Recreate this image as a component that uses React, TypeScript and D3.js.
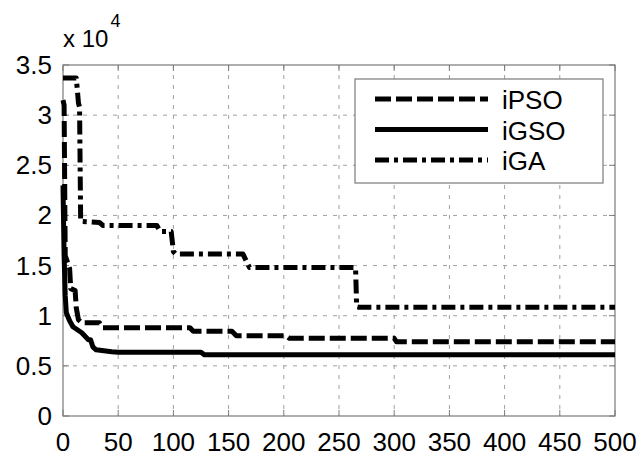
import React, { useRef, useEffect } from "react";
import { select, scaleLinear, line } from "d3";

const WIDTH = 637;
const HEIGHT = 459;
const MARGIN = { top: 65, right: 22, bottom: 43, left: 63 };
const FONT = "'Liberation Sans', Arial, sans-serif";
const GRID = "#a0a0a0";
const AXIS = "#7a7a7a";

const X_TICKS = [0, 50, 100, 150, 200, 250, 300, 350, 400, 450, 500];
const Y_TICKS = [0, 0.5, 1, 1.5, 2, 2.5, 3, 3.5];
const Y_LABELS = ["0", "0.5", "1", "1.5", "2", "2.5", "3", "3.5"];

// [iteration, value x 10^4]
const iPSO: [number, number][] = [
  [0, 3.15], [1, 3.1], [2, 1.6], [6, 1.47], [7, 1.27], [11, 1.25],
  [12, 1.08], [14, 0.96], [17, 0.93], [33, 0.93], [36, 0.88],
  [115, 0.88], [118, 0.845], [153, 0.845], [157, 0.8], [202, 0.8],
  [205, 0.775], [300, 0.775], [302, 0.74], [500, 0.74]
];
const iGSO: [number, number][] = [
  [0, 2.3], [1, 1.6], [2, 1.2], [3, 1.03], [6, 0.95], [9, 0.89],
  [13, 0.86], [17, 0.83], [23, 0.76], [25, 0.76], [27, 0.69],
  [30, 0.66], [44, 0.64], [50, 0.635], [125, 0.635], [128, 0.61],
  [500, 0.61]
];
const iGA: [number, number][] = [
  [0, 3.37], [12, 3.37], [13, 3.25], [14, 3.12], [15, 3.08], [16, 1.94],
  [33, 1.93], [36, 1.9], [85, 1.9], [88, 1.84], [98, 1.84], [100, 1.64],
  [102, 1.615], [163, 1.615], [169, 1.48], [265, 1.48], [266, 1.09],
  [268, 1.085], [500, 1.085]
];

const SERIES = [
  { name: "iPSO", data: iPSO, dash: "16,5" },
  { name: "iGSO", data: iGSO, dash: null },
  { name: "iGA", data: iGA, dash: "14,5,4,5" }
];

const drawAxes = (svg, x, y, innerWidth, innerHeight) => {
  const g = svg.append("g");

  // grid
  X_TICKS.slice(1, -1).forEach((t) => {
    g.append("line")
      .attr("x1", x(t)).attr("x2", x(t))
      .attr("y1", 0).attr("y2", innerHeight)
      .attr("stroke", GRID).attr("stroke-dasharray", "4,6");
  });
  Y_TICKS.slice(1, -1).forEach((t) => {
    g.append("line")
      .attr("x1", 0).attr("x2", innerWidth)
      .attr("y1", y(t)).attr("y2", y(t))
      .attr("stroke", GRID).attr("stroke-dasharray", "4,6");
  });

  // inward ticks on all four sides
  X_TICKS.forEach((t) => {
    [[innerHeight, innerHeight - 6], [0, 6]].forEach(([a, b]) => {
      g.append("line")
        .attr("x1", x(t)).attr("x2", x(t)).attr("y1", a).attr("y2", b)
        .attr("stroke", AXIS);
    });
  });
  Y_TICKS.forEach((t) => {
    [[0, 6], [innerWidth, innerWidth - 6]].forEach(([a, b]) => {
      g.append("line")
        .attr("x1", a).attr("x2", b).attr("y1", y(t)).attr("y2", y(t))
        .attr("stroke", AXIS);
    });
  });

  // box
  g.append("rect")
    .attr("width", innerWidth).attr("height", innerHeight)
    .attr("fill", "none").attr("stroke", AXIS).attr("stroke-width", 1.2);

  // tick labels
  X_TICKS.forEach((t) => {
    g.append("text")
      .attr("x", x(t)).attr("y", innerHeight + 35)
      .attr("text-anchor", "middle")
      .style("font-family", FONT).style("font-size", "26px")
      .text(t);
  });
  Y_TICKS.forEach((t, i) => {
    g.append("text")
      .attr("x", -11).attr("y", y(t) + 9)
      .attr("text-anchor", "end")
      .style("font-family", FONT).style("font-size", "26px")
      .text(Y_LABELS[i]);
  });

  // exponent
  const exp = g.append("text")
    .attr("x", 0).attr("y", -18)
    .style("font-family", FONT).style("font-size", "24px")
    .text("x 10");
  exp.append("tspan")
    .attr("dy", -20).attr("dx", 2)
    .style("font-size", "18px")
    .text("4");
};

const drawLegend = (svg) => {
  const lg = svg.append("g").attr("transform", `translate(${355 - MARGIN.left},${79 - MARGIN.top})`);
  lg.append("rect")
    .attr("width", 248).attr("height", 104)
    .attr("fill", "#fff").attr("stroke", AXIS).attr("stroke-width", 1.2);
  SERIES.forEach((s, i) => {
    const cy = 20 + i * 30.5;
    const l = lg.append("line")
      .attr("x1", 20).attr("x2", 133)
      .attr("y1", cy).attr("y2", cy)
      .attr("stroke", "#000").attr("stroke-width", 5);
    if (s.dash) l.attr("stroke-dasharray", s.dash);
    lg.append("text")
      .attr("x", 147).attr("y", cy + 10)
      .style("font-family", FONT).style("font-size", "26px")
      .text(s.name);
  });
};

export default function App() {
  const node = useRef(null);

  useEffect(() => {
    document.body.style.margin = "0";
    node.current.innerHTML = "";

    const innerWidth = WIDTH - MARGIN.left - MARGIN.right;
    const innerHeight = HEIGHT - MARGIN.top - MARGIN.bottom;

    const x = scaleLinear().domain([0, 500]).range([0, innerWidth]);
    const y = scaleLinear().domain([0, 3.5]).range([innerHeight, 0]);

    const svg = select(node.current)
      .append("svg")
      .attr("width", WIDTH)
      .attr("height", HEIGHT)
      .style("display", "block")
      .style("background", "#fff")
      .append("g")
      .attr("transform", `translate(${MARGIN.left},${MARGIN.top})`);

    drawAxes(svg, x, y, innerWidth, innerHeight);

    const path = line<[number, number]>()
      .x((d) => x(d[0]))
      .y((d) => y(d[1]));

    SERIES.forEach((s) => {
      const p = svg.append("path")
        .datum(s.data)
        .attr("fill", "none")
        .attr("stroke", "#000")
        .attr("stroke-width", 5)
        .attr("stroke-linejoin", "round")
        .attr("d", path);
      if (s.dash) p.attr("stroke-dasharray", s.dash);
    });

    drawLegend(svg);
  }, []);

  return <div ref={node} />;
}
